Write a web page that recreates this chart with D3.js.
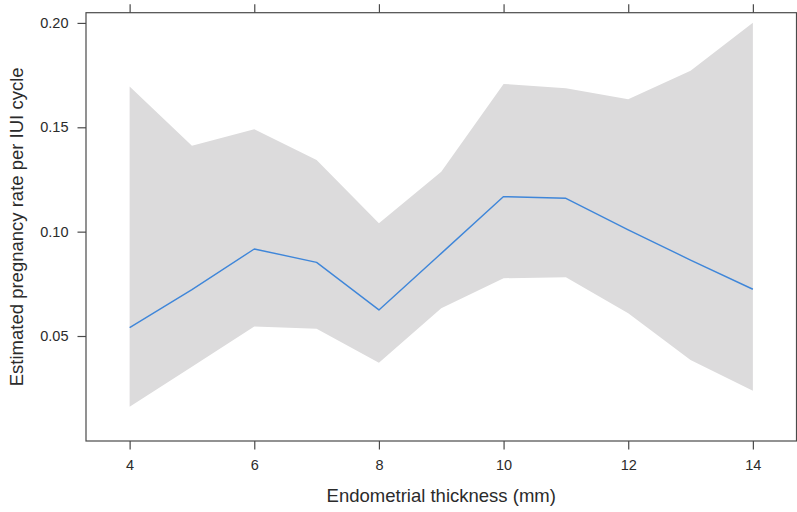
<!DOCTYPE html>
<html>
<head>
<meta charset="utf-8">
<script src="https://cdn.jsdelivr.net/npm/d3@7"></script>
<style>
  html, body { margin: 0; padding: 0; background: #ffffff; }
  svg { display: block; font-family: "Liberation Sans", Arial, sans-serif; }
</style>
</head>
<body>
<svg id="chart" width="797" height="512"></svg>
<script>
// Endometrial thickness (mm) at each evaluated point
const thickness = [4, 5, 6, 7, 8, 9, 10, 11, 12, 13, 14];
// Estimated pregnancy rate per IUI cycle and its confidence limits
const estimate = [0.0540, 0.0722, 0.0917, 0.0853, 0.0625, 0.0896, 0.1168, 0.1160, 0.1008, 0.0864, 0.0724];
const lower    = [0.0161, 0.0353, 0.0545, 0.0535, 0.0372, 0.0633, 0.0777, 0.0781, 0.0609, 0.0385, 0.0238];
const upper    = [0.1695, 0.1411, 0.1491, 0.1343, 0.1040, 0.1287, 0.1708, 0.1687, 0.1634, 0.1771, 0.2001];
// Axis ticks
const xTicks = [4, 6, 8, 10, 12, 14];
const yTicks = [0.05, 0.10, 0.15, 0.20];

const svg = d3.select("#chart");
const panel = { left: 86, right: 796.5, top: 12.7, bottom: 441 };

const x = d3.scaleLinear().domain([3.3, 14.7]).range([panel.left, panel.right]);
const y = d3.scaleLinear().domain([-0.0003, 0.2049]).range([panel.bottom, panel.top]);

const rows = thickness.map((t, i) => ({ t, est: estimate[i], lo: lower[i], hi: upper[i] }));

// Confidence band
svg.append("path")
  .datum(rows)
  .attr("fill", "#dcdbdc")
  .attr("stroke", "none")
  .attr("d", d3.area().x(d => x(d.t)).y0(d => y(d.lo)).y1(d => y(d.hi)));

// Estimated rate
svg.append("path")
  .datum(rows)
  .attr("fill", "none")
  .attr("stroke", "#3f86d9")
  .attr("stroke-width", 1.4)
  .attr("stroke-linejoin", "round")
  .attr("d", d3.line().x(d => x(d.t)).y(d => y(d.est)));

const frameColor = "#4a4a4a";
const textColor = "#2b2b2b";

function styleAxis(g) {
  g.select(".domain").remove();
  g.selectAll(".tick line").attr("stroke", frameColor).attr("stroke-width", 1.2);
  g.selectAll(".tick text").attr("fill", textColor).style("font-size", "14.5px")
    .style("font-family", "'Liberation Sans', Arial, sans-serif");
}

// Bottom axis with labels
svg.append("g")
  .attr("transform", `translate(0,${panel.bottom})`)
  .call(d3.axisBottom(x).tickValues(xTicks).tickSize(8.5).tickPadding(10).tickFormat(d3.format("d")))
  .call(styleAxis);

// Top axis, ticks only
svg.append("g")
  .attr("transform", `translate(0,${panel.top})`)
  .call(d3.axisTop(x).tickValues(xTicks).tickSize(8.5).tickFormat(""))
  .call(styleAxis);

// Left axis with labels
svg.append("g")
  .attr("transform", `translate(${panel.left},0)`)
  .call(d3.axisLeft(y).tickValues(yTicks).tickSize(8.5).tickPadding(9).tickFormat(d3.format(".2f")))
  .call(styleAxis);

// Panel frame
svg.append("rect")
  .attr("x", panel.left)
  .attr("y", panel.top)
  .attr("width", panel.right - panel.left)
  .attr("height", panel.bottom - panel.top)
  .attr("fill", "none")
  .attr("stroke", frameColor)
  .attr("stroke-width", 1.2);

// Axis titles
svg.append("text")
  .attr("x", (panel.left + panel.right) / 2)
  .attr("y", 502)
  .attr("text-anchor", "middle")
  .attr("fill", textColor)
  .style("font-size", "18.5px")
  .text("Endometrial thickness (mm)");

svg.append("text")
  .attr("transform", `translate(22.5,${(panel.top + panel.bottom) / 2}) rotate(-90)`)
  .attr("text-anchor", "middle")
  .attr("fill", textColor)
  .style("font-size", "18.5px")
  .text("Estimated pregnancy rate per IUI cycle");
</script>
</body>
</html>
